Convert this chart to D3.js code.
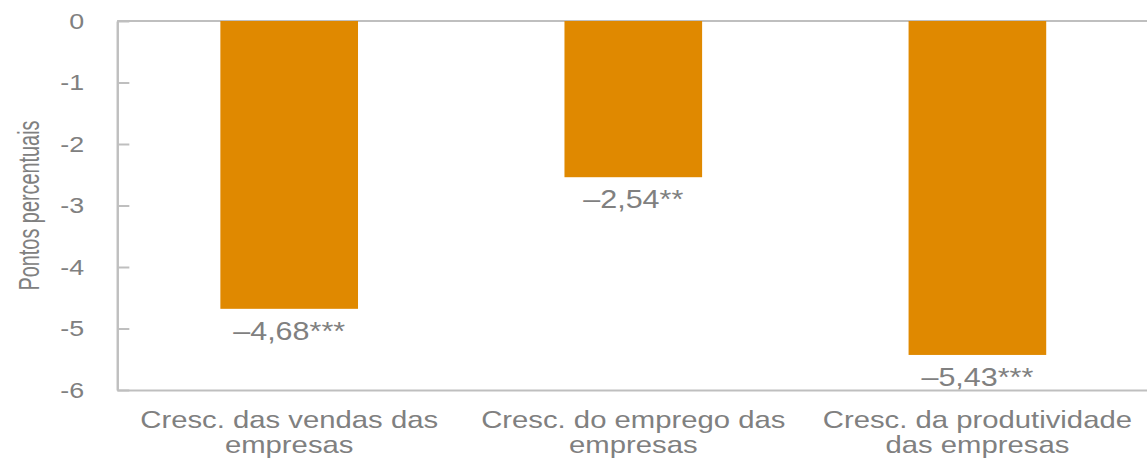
<!DOCTYPE html>
<html lang="pt">
<head>
<meta charset="utf-8">
<title>Pontos percentuais</title>
<script src="https://cdn.jsdelivr.net/npm/d3@7"></script>
<style>
  html, body { margin: 0; padding: 0; background: #ffffff; }
  #chart svg { display: block; }
</style>
</head>
<body>
<div id="chart"></div>
<script>
'use strict';

// ── Data ────────────────────────────────────────────────────────────────────
const categories = [
  'Cresc. das vendas das empresas',
  'Cresc. do emprego das empresas',
  'Cresc. da produtividade das empresas',
];
const values = [-4.68, -2.54, -5.43];
const stars  = ['***', '**', '***'];
const yTicks = [0, -1, -2, -3, -4, -5, -6];

// ── Layout ──────────────────────────────────────────────────────────────────
// the source picture is stretched sideways, so draw in a narrower viewBox
const fullW = 1147, fullH = 459;
const vbW = 940;
const margin = { top: 21, right: -2, bottom: 69, left: 96 };
const W = vbW - margin.left - margin.right;
const H = fullH - margin.top - margin.bottom;

const TEXT = '#808080';
const LINE = '#bfbfbf';
const BAR  = '#e08900';
const FONT = '"Liberation Sans", Arial, sans-serif';

const x = d3.scaleBand()
  .domain(categories)
  .range([0, W])
  .paddingInner(0.6)
  .paddingOuter(0.3);

const y = d3.scaleLinear()
  .domain([-6, 0])
  .range([H, 0]);

const svg = d3.select('#chart')
  .append('svg')
  .attr('width', fullW)
  .attr('height', fullH)
  .attr('viewBox', `0 0 ${vbW} ${fullH}`)
  .attr('preserveAspectRatio', 'none');

const g = svg.append('g').attr('transform', `translate(${margin.left},${margin.top})`);

// Zero line along the top
g.append('line')
  .attr('x1', 0).attr('x2', W)
  .attr('y1', y(0)).attr('y2', y(0))
  .attr('stroke', LINE).attr('stroke-width', 2);

// Bars
g.selectAll('rect.bar')
  .data(values)
  .join('rect')
  .attr('class', 'bar')
  .attr('x', (d, i) => x(categories[i]))
  .attr('y', y(0))
  .attr('width', x.bandwidth())
  .attr('height', d => y(d) - y(0))
  .attr('fill', BAR);

// Value labels under each bar
g.selectAll('text.val')
  .data(values)
  .join('text')
  .attr('class', 'val')
  .attr('x', (d, i) => x(categories[i]) + x.bandwidth() / 2)
  .attr('y', d => y(d) + 31)
  .attr('text-anchor', 'middle')
  .attr('fill', TEXT)
  .attr('font-family', FONT)
  .attr('font-size', '25px')
  .text((d, i) => '\u2013' + d3.format('.2f')(-d).replace('.', ',') + stars[i]);

// Y axis, ticks pointing inward
const yAxis = g.append('g')
  .call(d3.axisLeft(y).tickValues(yTicks).tickSizeInner(-10).tickSizeOuter(0).tickPadding(27)
    .tickFormat(d => d === 0 ? '0' : String(d)));
yAxis.selectAll('path, line').attr('stroke', LINE).attr('stroke-width', 2);
yAxis.selectAll('text')
  .attr('fill', TEXT)
  .attr('font-family', FONT)
  .attr('font-size', '22px');

// X axis with wrapped category labels
const xAxis = g.append('g')
  .attr('transform', `translate(0,${H})`)
  .call(d3.axisBottom(x).tickSize(0).tickSizeOuter(0).tickPadding(0));
xAxis.select('.domain').attr('stroke', LINE).attr('stroke-width', 2);
xAxis.selectAll('text')
  .attr('fill', TEXT)
  .attr('font-family', FONT)
  .attr('font-size', '24px')
  .call(wrap, 265);

function wrap(texts, width) {
  texts.each(function () {
    const text = d3.select(this);
    const words = text.text().split(/\s+/);
    text.text(null).attr('y', 0).attr('dy', null);
    let line = [];
    let lineNo = 0;
    let tspan = text.append('tspan').attr('x', 0).attr('y', 38);
    words.forEach(w => {
      line.push(w);
      tspan.text(line.join(' '));
      if (tspan.node().getComputedTextLength() > width && line.length > 1) {
        line.pop();
        tspan.text(line.join(' '));
        line = [w];
        lineNo += 1;
        tspan = text.append('tspan').attr('x', 0).attr('y', 38 + lineNo * 25).text(w);
      }
    });
  });
}

// Y axis title (narrow face in the source)
svg.append('text')
  .attr('transform', `translate(26,${margin.top + H / 2}) rotate(-90)`)
  .attr('text-anchor', 'middle')
  .attr('dominant-baseline', 'middle')
  .attr('fill', TEXT)
  .attr('font-family', '"Liberation Sans Narrow", "Arial Narrow", ' + FONT)
  .attr('font-size', '24px')
  .attr('textLength', 170)
  .attr('lengthAdjust', 'spacingAndGlyphs')
  .text('Pontos percentuais');
</script>
</body>
</html>
